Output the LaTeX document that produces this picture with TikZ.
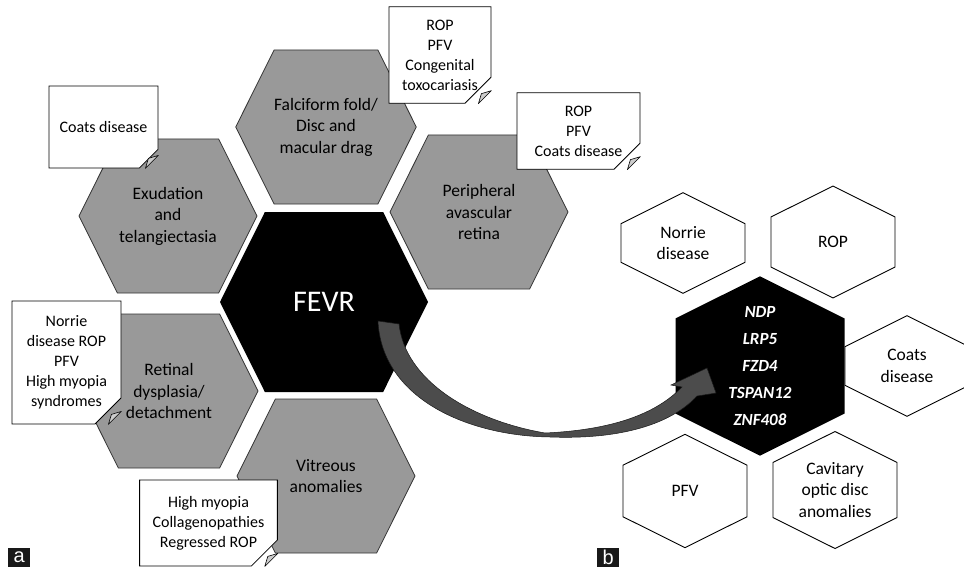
\documentclass[tikz,border=0pt]{standalone}
\usepackage{fontspec}
\setmainfont{Carlito}
\newfontfamily\panelfont{Liberation Sans}
\usepackage{tikz}
\usetikzlibrary{shapes.symbols, shapes.misc, calc}

\begin{document}
\begin{tikzpicture}[x=1pt, y=1pt]

\tikzset{
  hexflat/.style  = {signal, signal to=east and west, signal pointer angle=127,
                     minimum width=178pt, minimum height=154pt, inner sep=0pt,
                     align=center, font=\fontsize{17.5}{21.5}\selectfont},
  greyhex/.style  = {hexflat, fill=black!40, draw=black!80, line width=0.8pt},
  core/.style     = {hexflat, fill=black, minimum width=208pt, minimum height=180pt,
                     text=white, font=\fontsize{30}{36}\selectfont},
  hexup/.style    = {signal, signal to=north and south, signal pointer angle=127,
                     minimum width=124pt, minimum height=65pt, inner sep=0pt,
                     align=center, font=\fontsize{17.5}{21.5}\selectfont},
  whitehex/.style = {hexup, fill=white, draw=black, line width=0.9pt},
  geneset/.style  = {hexup, fill=black, minimum width=169pt, minimum height=101pt,
                     inner ysep=-12pt, text=white,
                     font=\fontsize{17}{27}\selectfont\bfseries\itshape},
  note/.style     = {chamfered rectangle, chamfered rectangle corners=south east,
                     chamfered rectangle xsep=13pt, chamfered rectangle ysep=13pt,
                     fill=white, draw=black, line width=0.8pt, inner sep=0pt,
                     align=center, font=\fontsize{16}{20}\selectfont},
  fold/.style     = {fill=black!20, draw=black, line width=0.6pt, line join=round},
  blockarr/.style = {fill=black!70, draw=black!90, line width=0.5pt},
  panel/.style    = {fill=black!90, text=white, inner sep=0pt, anchor=south west,
                     minimum width=22pt, minimum height=19pt,
                     font=\panelfont\fontsize{20}{20}\selectfont}
}

\useasboundingbox (0,0) rectangle (964,-567);

%% ── Panel a: FEVR and its clinical signs ────────────────────────
\node[core]    (fevr)   at (324,-302) {FEVR};
\node[greyhex] (falci)  at (326,-127) {Falciform fold/\\Disc and\\macular drag};
\node[greyhex] (exud)   at (168,-216) {Exudation\\and\\telangiectasia};
\node[greyhex] (periph) at (479,-212) {Peripheral\\avascular\\retina};
\node[greyhex] (retin)  at (169,-391) {Retinal\\dysplasia/\\detachment};
\node[greyhex] (vitre)  at (326,-476) {Vitreous\\anomalies};

%% ── Panel a: differential notes ─────────────────────────────────
\node[note, minimum width=109pt, minimum height=82pt]  (nExud)   at (103.5,-127) {Coats disease};
\node[note, minimum width=102pt, minimum height=88pt]  (nFalci)  at (440,-55)    {ROP\\PFV\\Congenital\\toxocariasis};
\node[note, minimum width=123pt, minimum height=74pt]  (nPeriph) at (578.5,-131) {ROP\\PFV\\Coats disease};
\node[note, minimum width=109pt, minimum height=123pt] (nRetin)  at (66.5,-362.5) {Norrie\\disease ROP\\PFV\\High myopia\\syndromes};
\node[note, minimum width=131pt, minimum height=86pt]  (nVitre)  at (208.5,-523) {High myopia\\Collagenopathies\\Regressed ROP};

\foreach \n in {nExud, nFalci, nPeriph, nRetin, nVitre}
  \filldraw[fold] ($(\n.south -| \n.east)+(-13,0)$) -- ($(\n.south -| \n.east)+(0,13)$)
                  -- ($(\n.south -| \n.east)+(-10,10)$) -- cycle;

%% ── Panel b: genes and differentials ────────────────────────────
\node[geneset]  (genes)  at (760,-366) {NDP\\LRP5\\FZD4\\TSPAN12\\ZNF408};
\node[whitehex] (norrie) at (683,-243) {Norrie\\disease};
\node[whitehex] (rop)    at (833,-242) {ROP};
\node[whitehex] (coats)  at (907,-366) {Coats\\disease};
\node[whitehex] (pfv)    at (685,-491) {PFV};
\node[whitehex] (cavit)  at (835,-490) {Cavitary\\optic disc\\anomalies};

%% ── Curved arrow: FEVR -> genes ─────────────────────────────────
\filldraw[blockarr] ([shift={(54,-19)}]fevr.center)
   .. controls (382,-400) and (470,-436) .. (550,-437)
   .. controls (630,-440) and (675,-420) .. (697,-396)
   -- (716,-393) -- ([shift={(-53,-2)}]genes.center) -- (671,-385) -- (682,-387)
   .. controls (655,-415) and (610,-430) .. (545,-433)
   .. controls (470,-420) and (405,-380) .. (399,-324) -- cycle;

%% ── Panel labels ────────────────────────────────────────────────
\node[panel] (labA) at (8,-567)   {a};
\node[panel] (labB) at (597,-567) {b};

\end{tikzpicture}
\end{document}
